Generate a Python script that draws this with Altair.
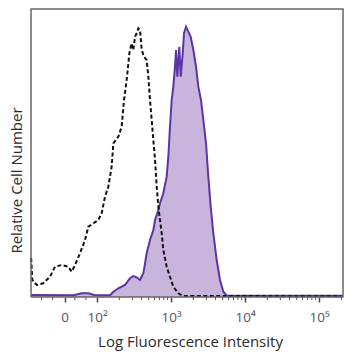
import altair as alt
import pandas as pd

# Isotype control (dashed) — x in log10 decades (display units), y relative count
ctrl_x = [1.11, 1.126, 1.185, 1.274, 1.365, 1.432, 1.523, 1.612, 1.658, 1.703, 1.770, 1.838,
          1.883, 1.950, 2.018, 2.063, 2.108, 2.153, 2.198, 2.221, 2.288, 2.333, 2.365, 2.401,
          2.437, 2.468, 2.491, 2.514, 2.536, 2.559, 2.581, 2.604, 2.635, 2.671, 2.694, 2.716,
          2.739, 2.761, 2.784, 2.807, 2.829, 2.851, 2.874, 2.896, 2.941, 2.986, 3.031, 3.099,
          3.166, 3.842, 4.5, 5.3]
ctrl_y = [39, 17, 12, 13.7, 20.3, 30.3, 32, 30.3, 25.3, 32, 43.7, 57,
          70.3, 73.7, 77, 83.7, 100.3, 110.3, 130.3, 153.7, 160.3, 170.3, 197, 217,
          243.7, 253.7, 247, 260.3, 263.7, 268.7, 267, 247, 240.3, 237, 220.3, 197,
          177, 157, 137, 110.3, 90.3, 77, 63.7, 47, 30.3, 20.3, 10.3, 3.7,
          1, 1, 0.8, 0.8]

# Stained sample (purple filled)
stain_x = [1.11, 1.680, 1.793, 1.883, 1.973, 2.176, 2.221, 2.288, 2.378, 2.446, 2.491, 2.536,
           2.581, 2.626, 2.649, 2.671, 2.716, 2.761, 2.784, 2.829, 2.851, 2.896, 2.941, 2.964,
           2.986, 3.009, 3.031, 3.054, 3.068, 3.085, 3.112, 3.131, 3.158, 3.176, 3.203, 3.234,
           3.266, 3.302, 3.338, 3.369, 3.405, 3.437, 3.473, 3.504, 3.536, 3.572, 3.617, 3.662,
           3.707, 3.752, 5.32]
stain_y = [2, 1.7, 3.7, 3.7, 1.7, 1.7, 5.3, 8.7, 12, 18.7, 21, 19.7,
           17, 23.7, 33.7, 43.7, 57, 67, 77, 87, 93.7, 103.7, 120.3, 140.3,
           170.3, 197, 210.3, 230.3, 247, 220.3, 250.3, 220.3, 243.7, 263.7, 270.3, 265.3,
           260.3, 247, 230.3, 210.3, 197, 177, 153.7, 120.3, 90.3, 63.7, 37, 17,
           5.3, 1.3, 1.3]

tick_values = [1.563, 2, 3, 4, 5]
tick_labels = ["0", "10²", "10³", "10⁴", "10⁵"]
minor_ticks = [1.25, 1.40, 1.70, 1.85] + [
    k + m for k in (2, 3, 4) for m in (0.301, 0.477, 0.602, 0.699, 0.778, 0.845, 0.903, 0.954)
] + [5.301]

XDOM = [1.108, 5.324]
YDOM = [0, 288]
W, H = 312, 288
FRAME = "#666666"

ctrl = pd.DataFrame({"x": ctrl_x, "y": ctrl_y})
stain = pd.DataFrame({"x": stain_x, "y": stain_y})
minor = pd.DataFrame({"x": minor_ticks})
# frame outline traced through the plot's domain corners
frame_df = pd.DataFrame({
    "x": [XDOM[0], XDOM[0], XDOM[1], XDOM[1], XDOM[0]],
    "y": [YDOM[0], YDOM[1], YDOM[1], YDOM[0], YDOM[0]],
    "o": [0, 1, 2, 3, 4],
})

label_expr = "{" + ",".join(f"'{v}':'{l}'" for v, l in zip(tick_values, tick_labels)) + "}[datum.value] || ''"

xscale = alt.Scale(domain=XDOM, nice=False, zero=False)
yscale = alt.Scale(domain=YDOM, nice=False, zero=True)

xaxis = alt.Axis(
    values=tick_values,
    labelExpr=label_expr,
    title="Log Fluorescence Intensity",
    titleFont="Open Sans", titleFontSize=15, titleFontWeight="normal", titleColor="#2a2a2a",
    titleX=159, titleY=44, titleBaseline="middle",
    labelFont="Open Sans", labelFontSize=13.5, labelColor="#555555",
    labelPadding=8, tickSize=5, tickWidth=1.5, tickColor="#444444",
    domain=False, grid=False,
)
yaxis = alt.Axis(
    title="Relative Cell Number",
    titleFont="Open Sans", titleFontSize=15, titleFontWeight="normal", titleColor="#2a2a2a",
    titleX=-15, titleY=171, titleBaseline="middle",
    labels=False, ticks=False, domain=False, grid=False,
)

area = alt.Chart(stain).mark_area(
    color="#c9b5dc", opacity=1,
    line={"color": "#5b35a3", "strokeWidth": 2},
).encode(
    x=alt.X("x:Q", scale=xscale, axis=xaxis),
    y=alt.Y("y:Q", scale=yscale, axis=yaxis),
)

dashed = alt.Chart(ctrl).mark_line(
    color="#111111", strokeWidth=2, strokeDash=[4, 2.5],
).encode(
    x=alt.X("x:Q", scale=xscale),
    y=alt.Y("y:Q", scale=yscale),
)

minor_rules = alt.Chart(minor).mark_rule(color="#555555", strokeWidth=1).encode(
    x=alt.X("x:Q", scale=xscale),
    y=alt.value(H),
    y2=alt.value(H + 3),
)

frame = alt.Chart(frame_df).mark_line(
    color=FRAME, strokeWidth=1.5, clip=False,
).encode(
    x=alt.X("x:Q", scale=xscale),
    y=alt.Y("y:Q", scale=yscale),
    order="o:Q",
)

chart = alt.layer(area, dashed, minor_rules, frame).properties(
    width=W, height=H,
    autosize=alt.AutoSizeParams(type="none"),
    padding={"left": 23, "top": 1, "right": 7, "bottom": 60},
    background="white",
).configure_view(
    strokeWidth=0,
)

chart.save("out.html", embed_options={"renderer": "svg", "actions": False})
